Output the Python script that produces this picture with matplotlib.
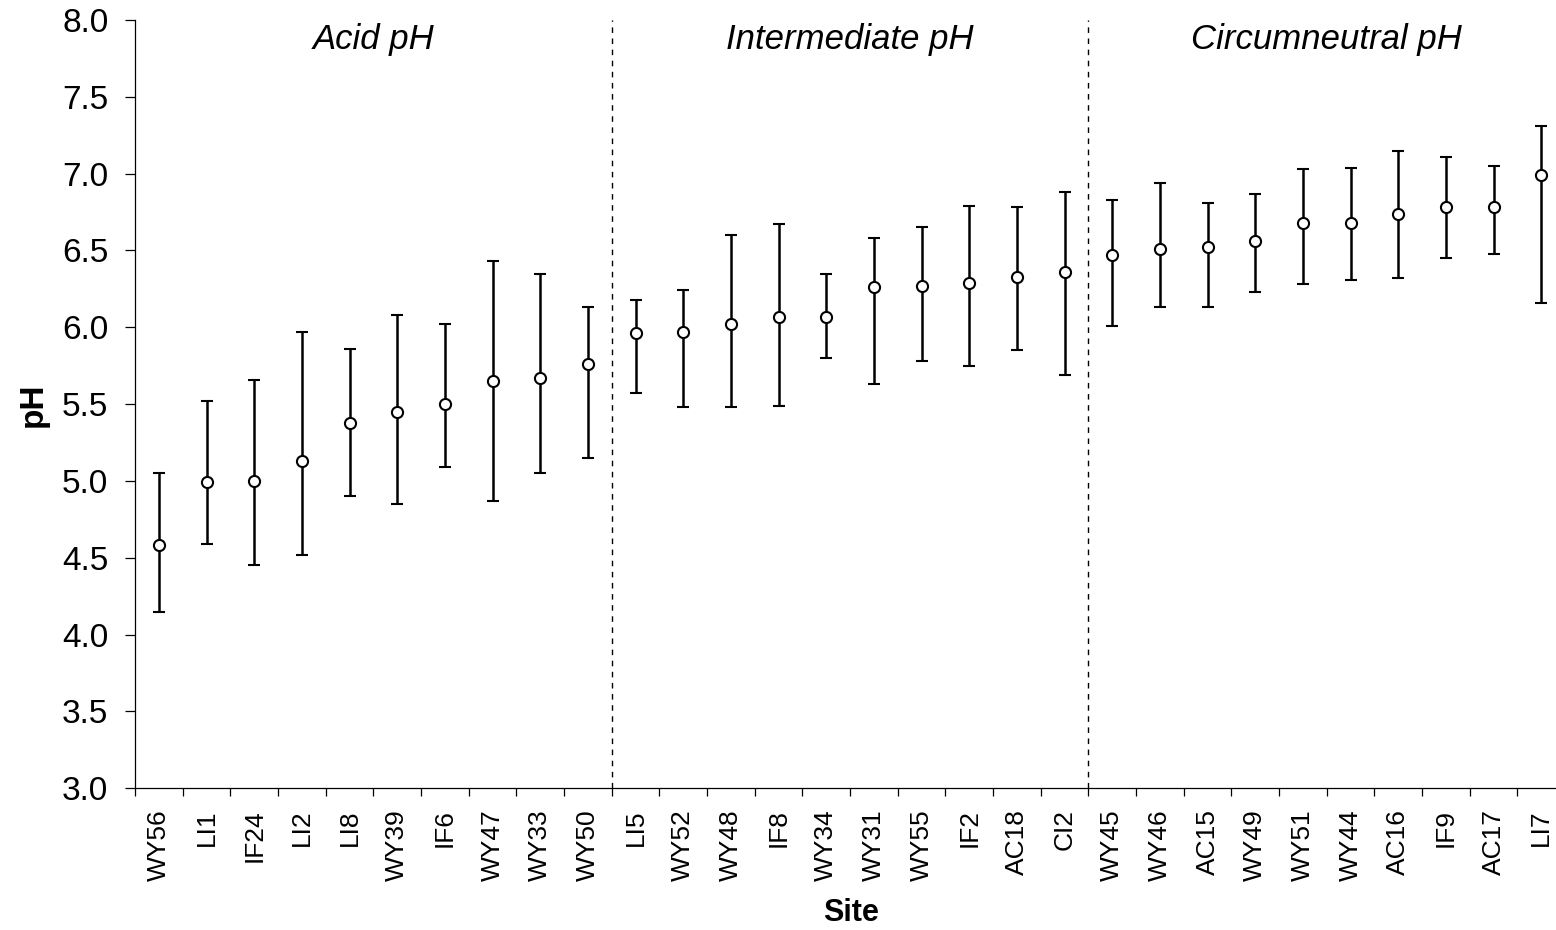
import numpy as np
import matplotlib
matplotlib.use("Agg")
import matplotlib.pyplot as plt
from matplotlib.ticker import FixedLocator, FormatStrFormatter

plt.rcParams['font.family'] = ['Liberation Sans', 'DejaVu Sans']

# sites ordered by mean pH
sites = ["WY56", "LI1", "IF24", "LI2", "LI8", "WY39", "IF6", "WY47", "WY33", "WY50",
         "LI5", "WY52", "WY48", "IF8", "WY34", "WY31", "WY55", "IF2", "AC18", "CI2",
         "WY45", "WY46", "AC15", "WY49", "WY51", "WY44", "AC16", "IF9", "AC17", "LI7"]
ph_mean = [4.58, 4.99, 5.00, 5.13, 5.38, 5.45, 5.50, 5.65, 5.67, 5.76,
           5.96, 5.97, 6.02, 6.07, 6.07, 6.26, 6.27, 6.29, 6.33, 6.36,
           6.47, 6.51, 6.52, 6.56, 6.68, 6.68, 6.74, 6.78, 6.78, 6.99]
ph_max = [5.05, 5.52, 5.66, 5.97, 5.86, 6.08, 6.02, 6.43, 6.35, 6.13,
          6.18, 6.24, 6.60, 6.67, 6.35, 6.58, 6.65, 6.79, 6.78, 6.88,
          6.83, 6.94, 6.81, 6.87, 7.03, 7.04, 7.15, 7.11, 7.05, 7.31]
ph_min = [4.15, 4.59, 4.45, 4.52, 4.90, 4.85, 5.09, 4.87, 5.05, 5.15,
          5.57, 5.48, 5.48, 5.49, 5.80, 5.63, 5.78, 5.75, 5.85, 5.69,
          6.01, 6.13, 6.13, 6.23, 6.28, 6.31, 6.32, 6.45, 6.48, 6.16]

groups = ["Acid pH", "Intermediate pH", "Circumneutral pH"]
group_size = 10

x = np.arange(len(sites))
mean = np.array(ph_mean)
lo = mean - np.array(ph_min)
hi = np.array(ph_max) - mean

fig = plt.figure(figsize=(15.56, 9.3), dpi=100)
ax = fig.add_axes([0.0868, 0.1524, 0.919, 0.8261])

ax.errorbar(x, mean, yerr=[lo, hi], fmt='o', mfc='white', mec='black', ms=8, mew=1.5,
            ecolor='black', elinewidth=1.8, capsize=4.4, capthick=1.8, zorder=3)

# dashed separators between pH classes + class titles
for i, name in enumerate(groups):
    if i > 0:
        ax.axvline(i * group_size - 0.5, color='black', lw=1.0, ls=(0, (4, 4)), zorder=1)
    ax.text(i * group_size + (group_size - 1) / 2, 7.87, name, ha='center', va='center',
            fontsize=25, style='italic')

ax.set_xlim(-0.5, len(sites) - 0.5)
ax.set_ylim(3.0, 8.0)
ax.set_yticks(np.arange(3.0, 8.01, 0.5))
ax.yaxis.set_major_formatter(FormatStrFormatter('%.1f'))

ax.set_xticks(x)
ax.set_xticklabels(sites, rotation=90, fontsize=19)
ax.xaxis.set_minor_locator(FixedLocator(np.arange(-0.5, len(sites), 1.0)))
ax.tick_params(axis='x', which='major', length=0, pad=15)
ax.tick_params(axis='x', which='minor', length=5.5, width=0.9, direction='out')
ax.tick_params(axis='y', length=7.2, width=0.9, direction='out', labelsize=24, pad=12)

for side in ['top', 'right']:
    ax.spines[side].set_visible(False)
for side in ['left', 'bottom']:
    ax.spines[side].set_linewidth(0.9)

fig.text(33 / 1556, 1 - 405 / 930, "pH", rotation=90, ha='center', va='center',
         fontsize=24, fontweight='bold')
fig.text(851 / 1556, 1 - 913 / 930, "Site", ha='center', va='center',
         fontsize=22, fontweight='bold')

fig.savefig("out.png", dpi=100)
